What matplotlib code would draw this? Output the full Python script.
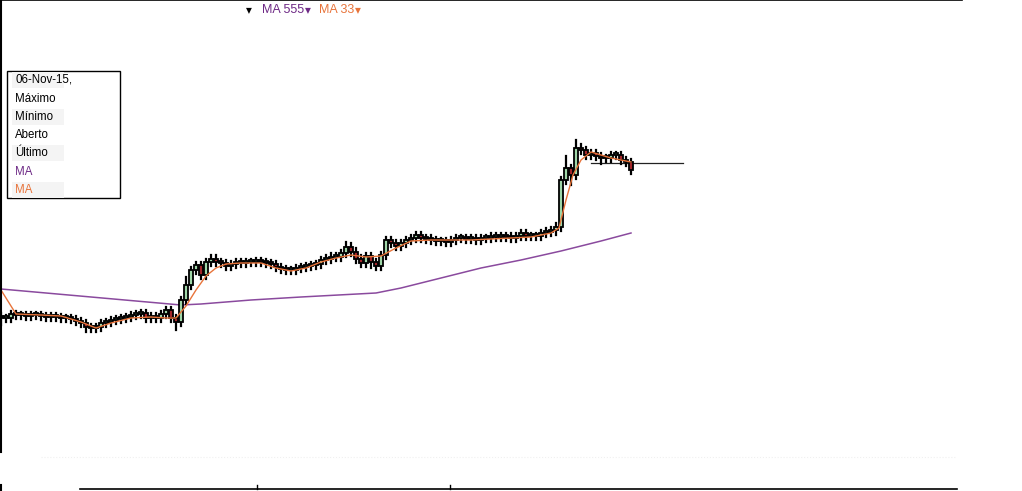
import matplotlib
matplotlib.use('Agg')
import matplotlib.pyplot as plt
from matplotlib.patches import Rectangle

plt.rcParams['font.family'] = ['Liberation Sans', 'DejaVu Sans']

# closing prices, one candle per session
closes = [
    15.2, 15.2, 15.6, 15.5, 15.5, 15.4, 15.5, 15.5, 15.4, 15.3,
    15.4, 15.3, 15.2, 15.2, 15.1, 14.9, 14.7, 14.3, 14.2, 14.3,
    14.7, 14.8, 15.0, 15.1, 15.2, 15.3, 15.5, 15.6, 15.7, 15.2,
    15.4, 15.2, 15.6, 16.0, 15.2, 14.8, 17.0, 18.5, 20.0, 20.5,
    19.5, 20.8, 21.1, 20.8, 20.7, 20.4, 20.6, 20.8, 20.7, 20.8,
    20.8, 20.9, 20.8, 20.7, 20.6, 20.3, 20.1, 20.0, 20.0, 20.2,
    20.3, 20.4, 20.5, 20.6, 21.0, 21.1, 21.3, 21.3, 21.7, 22.3,
    21.8, 21.1, 20.7, 21.4, 20.8, 20.4, 21.5, 23.0, 22.7, 22.4,
    22.7, 23.0, 23.2, 23.5, 23.2, 23.1, 23.0, 22.9, 22.9, 22.8,
    23.0, 23.2, 23.2, 23.1, 23.1, 23.0, 23.2, 23.2, 23.3, 23.3,
    23.4, 23.3, 23.2, 23.4, 23.7, 23.4, 23.4, 23.4, 23.7, 23.8,
    24.0, 24.3, 29.0, 30.2, 29.5, 32.2, 32.0, 31.5, 31.7, 31.4,
    31.2, 31.2, 31.5, 31.5, 31.0, 30.8, 30.0,
]
# intraday extremes beyond the body (wick lengths)
wick_up = [0.35] * len(closes)
wick_dn = [0.35] * len(closes)
for i, v in {0: 0.7, 17: 0.5, 35: 0.8, 74: 0.6, 111: 0.5, 114: 1.0, 120: 0.6}.items():
    wick_dn[i] = v
for i, v in {37: 0.8, 69: 0.5, 113: 1.2, 115: 0.8}.items():
    wick_up[i] = v

# moving averages: (session index, value)
ma33_idx = [0, 3, 8, 12, 16, 19, 22, 26, 30, 33, 35, 37, 39, 41, 43, 45, 48,
            52, 55, 58, 61, 64, 67, 70, 73, 76, 79, 82, 86, 90, 94, 98, 102,
            106, 110, 111.6, 113, 114.4, 116, 118, 120, 122, 124, 126]
ma33_val = [18.0, 15.6, 15.5, 15.4, 14.8, 14.2, 14.7, 15.2, 15.3, 15.2, 15.2,
            16.4, 18.0, 19.4, 20.2, 20.6, 20.7, 20.7, 20.2, 19.9, 20.2, 20.8,
            21.2, 21.5, 21.3, 21.4, 22.2, 22.9, 23.0, 23.0, 23.0, 23.1, 23.2,
            23.3, 23.7, 24.2, 27.0, 29.5, 31.0, 31.8, 31.5, 31.2, 31.0, 30.8]
ma555_idx = [0, 36, 40, 50, 60, 75, 80, 88, 96, 104, 112, 120, 126]
ma555_val = [18.1, 16.5, 16.6, 17.0, 17.3, 17.7, 18.2, 19.2, 20.2, 21.0, 21.9, 22.9, 23.7]

last_price = 30.7

info_rows = ['06-Nov-15,', 'Máximo', 'Mínimo', 'Aberto', 'Último', 'MA', 'MA']
purple = '#6e2a86'
orange = '#e8743b'

fig = plt.figure(figsize=(10.22, 4.91), dpi=100)
ax = fig.add_axes([0, 0, 1, 1])
ax.set_xlim(-0.2, 1022 / 5 - 0.2)
ax.set_ylim(-2.1, 47.0)
ax.axis('off')

# candles
prev = closes[0] + 0.2
for i, c in enumerate(closes):
    o = prev
    lo, hi = min(o, c), max(o, c)
    ax.plot([i, i], [lo - wick_dn[i], hi + wick_up[i]], color='black', lw=1.6, zorder=3)
    body_color = '#9fd6a8' if c >= o else '#a3262a'
    ax.add_patch(Rectangle((i - 0.45, lo), 0.9, max(hi - lo, 0.2),
                           facecolor=body_color, edgecolor='black', lw=1.3, zorder=4))
    prev = c

ax.plot(ma555_idx, ma555_val, color='#8a4a9e', lw=1.1, zorder=2)
ax.plot(ma33_idx, ma33_val, color=orange, lw=1.0, zorder=5)

# last price marker line
ax.plot([118, 136.4], [last_price, last_price], color='#222222', lw=0.9, zorder=1)

# frame lines
fig.add_artist(plt.Line2D([0.001, 0.001], [1.0, 0.08], color='black', lw=1.5))
fig.add_artist(plt.Line2D([0.001, 0.001], [0.012, 0.0], color='black', lw=1.5))
fig.add_artist(plt.Line2D([0.0, 0.941], [0.999, 0.999], color='black', lw=1.2))
fig.add_artist(plt.Line2D([0.078, 0.936], [0.004, 0.004], color='black', lw=1.2))
for xt in [0.251, 0.440]:
    fig.add_artist(plt.Line2D([xt, xt], [0.004, 0.012], color='black', lw=1.0))
fig.add_artist(plt.Line2D([0.04, 0.935], [0.069, 0.069], color='#f0f0f0', lw=0.8, ls=':'))

# legend row at the top
ly = 1 - 10 / 491
fig.text(246 / 1022, ly, '\u25be', color='black', fontsize=8.5, va='center')
fig.text(262 / 1022, ly, 'MA 555', color=purple, fontsize=9, va='center')
fig.text(305 / 1022, ly, '\u25be', color=purple, fontsize=8.5, va='center')
fig.text(319 / 1022, ly, 'MA 33', color=orange, fontsize=9, va='center')
fig.text(355 / 1022, ly, '\u25be', color=orange, fontsize=8.5, va='center')

# info box
fig.add_artist(Rectangle((7 / 1022, 1 - 198 / 491), 113 / 1022, 127 / 491,
                         transform=fig.transFigure, facecolor='white',
                         edgecolor='black', lw=1.0, zorder=10))
row_y = [80, 99, 117, 135, 153, 172, 190]
row_colors = ['black', 'black', 'black', 'black', 'black', purple, orange]
for k, (txt, yy, col) in enumerate(zip(info_rows, row_y, row_colors)):
    if k % 2 == 0:
        fig.add_artist(Rectangle((12 / 1022, 1 - (yy + 8) / 491), 52 / 1022, 16 / 491,
                                 transform=fig.transFigure, facecolor='#f4f4f4',
                                 edgecolor='none', zorder=11))
    fig.text(15 / 1022, 1 - yy / 491, txt, color=col, fontsize=8.3, va='center', zorder=12)

fig.savefig('out.png', dpi=100)
